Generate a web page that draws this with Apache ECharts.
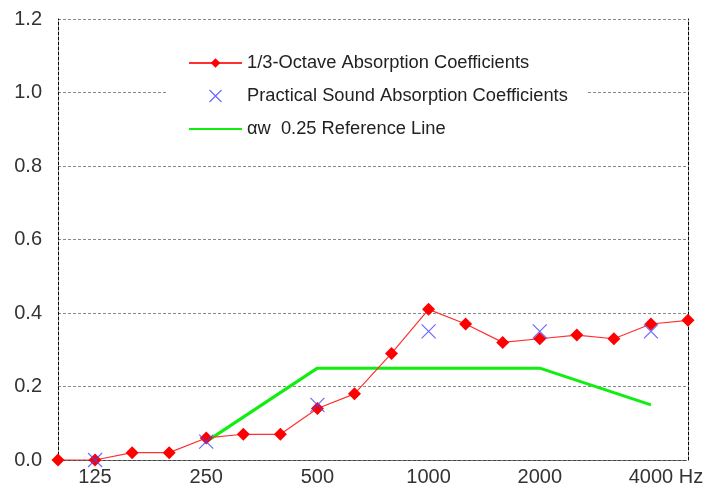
<!DOCTYPE html>
<html><head><meta charset="utf-8">
<script src="https://cdn.jsdelivr.net/npm/echarts@6/dist/echarts.min.js"></script>
<style>html,body{margin:0;padding:0;background:#fff}#c{width:720px;height:487px}</style>
</head><body><div id="c"></div>
<script>
const categories = ['100','125','160','200','250','315','400','500','630','800','1000','1250','1600','2000','2500','3150','4000','5000'];
const shownTicks = {'125':'125','250':'250','500':'500','1000':'1000','2000':'2000','4000':'4000 Hz'};
const thirdOctave = [0,0,0.02,0.02,0.06,0.07,0.07,0.14,0.18,0.29,0.41,0.37,0.32,0.33,0.34,0.33,0.37,0.38];
const practicalBands = ['125','250','500','1000','2000','4000'];
const practicalValues = [0,0.05,0.15,0.35,0.35,0.35];
const refBands = ['250','500','1000','2000','4000'];
const refValues = [0.05,0.25,0.25,0.25,0.15];
const yTicks = [0,0.2,0.4,0.6,0.8,1.0,1.2];

const names = ['1/3-Octave Absorption Coefficients','Practical Sound Absorption Coefficients','\u03b1w  0.25 Reference Line'];
const xPath = 'path://M0,0L10,10M0,10L10,0';
const font = 'Liberation Sans, Arial, sans-serif';

const chart = echarts.init(document.getElementById('c'));
chart.setOption({
  animation:false,
  backgroundColor:'#fff',
  grid:{left:58,right:32,top:19,bottom:26,containLabel:false},
  legend:{
    orient:'vertical', left:168, top:44, backgroundColor:'#fff',
    padding:[10,20,10,20], itemWidth:53, itemHeight:12, itemGap:15,
    textStyle:{fontFamily:font,fontSize:18.3,color:'#222'},
    data:[
      {name:names[0]},
      {name:names[1], itemStyle:{color:'transparent',borderColor:'#4545ff',borderWidth:1.2}},
      {name:names[2], itemStyle:{color:'transparent',borderColor:'transparent',borderWidth:0}}
    ]
  },
  xAxis:[{
    type:'category', data:categories, boundaryGap:false,
    axisLine:{lineStyle:{color:'#000',type:[3,2],width:1}},
    axisTick:{show:false},
    splitLine:{show:false},
    axisLabel:{interval:0, margin:7, color:'#333', fontFamily:font, fontSize:20,
      formatter:function(v){ if(!(v in shownTicks)) return ''; const t=shownTicks[v]; return t.indexOf('Hz')>=0 ? '{hz|'+t+'}' : t; },
      rich:{hz:{padding:[0,0,0,30],fontFamily:font,fontSize:20,color:'#333'}}}
  },{
    type:'category', data:categories, boundaryGap:false, position:'top',
    axisLine:{lineStyle:{color:'#444',type:[3,2],width:1}},
    axisTick:{show:false}, axisLabel:{show:false}
  }],
  yAxis:[{
    type:'value', min:0, max:1.2, interval:0.2,
    axisLine:{show:true,lineStyle:{color:'#000',type:[3,2],width:1}},
    axisTick:{show:false},
    splitLine:{show:true,lineStyle:{color:'#888',type:[3,2],width:1}},
    axisLabel:{margin:16,color:'#333',fontFamily:font,fontSize:20,
      formatter:function(v){ const m = yTicks.find(t=>Math.abs(t-v)<1e-9); return (m===undefined?v:m).toFixed(1); }}
  },{
    type:'value', min:0, max:1.2, interval:0.2, position:'right',
    axisLine:{show:true,lineStyle:{color:'#000',type:[3,2],width:1}},
    axisTick:{show:false}, axisLabel:{show:false}, splitLine:{show:false}
  }],
  series:[
    {name:names[2], type:'line', z:2, symbol:'none', connectNulls:true,
     lineStyle:{color:'#10ee10',width:3}, itemStyle:{color:'#10ee10'},
     data:refBands.map((b,i)=>[b,refValues[i]])},
    {name:names[0], type:'line', z:3, symbol:'diamond', symbolSize:13,
     lineStyle:{color:'#ff3030',width:1.2}, itemStyle:{color:'#ff0000'},
     data:thirdOctave},
    {name:names[1], type:'scatter', z:4, symbol:xPath, symbolSize:14, symbolKeepAspect:true,
     itemStyle:{color:'transparent',borderColor:'#4545ff',borderWidth:1.2},
     data:practicalBands.map((b,i)=>[b,practicalValues[i]])}
  ]
});
</script></body></html>
